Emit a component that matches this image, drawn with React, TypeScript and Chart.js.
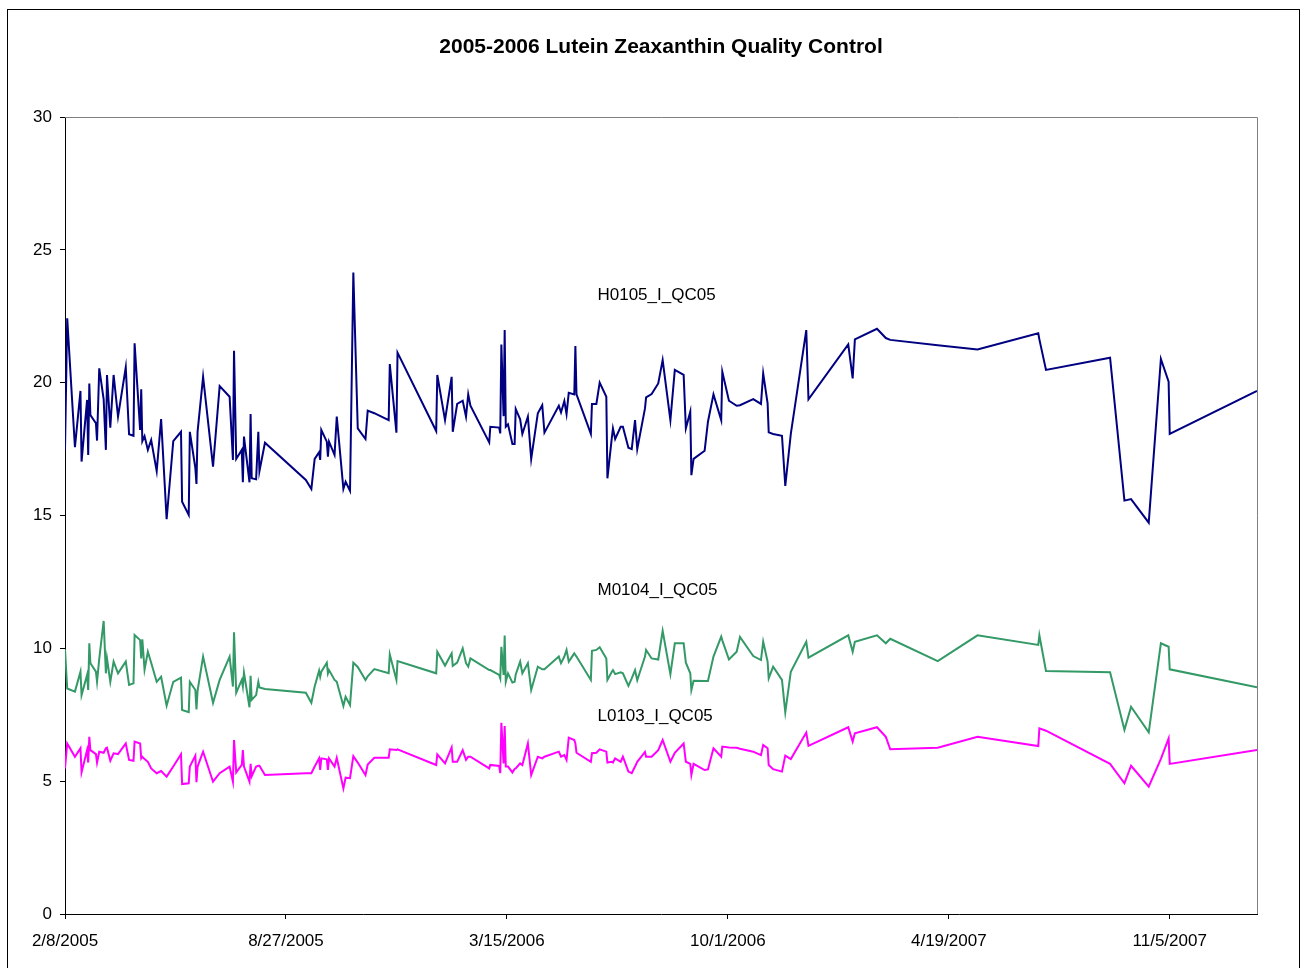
import React, { useEffect, useRef } from "react";
import { Chart, registerables } from "chart.js";

Chart.register(...registerables);

const BASE_DATE_UTC = Date.UTC(2005, 1, 8);
const chartTitle = "2005-2006 Lutein Zeaxanthin Quality Control";
const seriesNames = ["H0105_I_QC05", "M0104_I_QC05", "L0103_I_QC05"];

// days since 2/8/2005
const dayOffsets = [
  0, 2, 9, 14, 15, 20, 21, 22, 23, 28,
  29, 31, 35, 37, 38, 41, 44, 48, 55, 58,
  62, 63, 68, 69, 70, 72, 75, 78, 83, 87,
  92, 98, 105, 106, 112, 113, 118, 119, 120, 125,
  134, 140, 149, 152, 153, 155, 160, 161, 162, 167,
  168, 169, 173, 175, 176, 181, 218, 223, 226, 230,
  231, 232, 237, 238, 239, 244, 246, 252, 254, 258,
  261, 265, 272, 274, 280, 293, 294, 300, 301, 336,
  337, 344, 350, 351, 355, 360, 363, 365, 367, 384,
  385, 393, 394, 395, 397, 398, 399, 401, 405, 407,
  408, 412, 414, 419, 422, 428, 432, 434, 447, 449,
  452, 454, 456, 461, 462, 463, 476, 477, 481, 484,
  490, 491, 495, 496, 498, 503, 505, 510, 513, 516,
  518, 525, 526, 531, 537, 541, 548, 552, 560, 562,
  566, 567, 569, 579, 582, 587, 594, 595, 601, 608,
  611, 623, 630, 632, 636, 637, 641, 649, 652, 657,
  671, 673, 709, 713, 715, 735, 743, 747, 790, 826,
  881, 882, 888, 946, 959, 965, 981, 992, 999, 1000,
  1079,
];

const h0105 = [
  17.47, 22.42, 17.57, 19.69, 17.03, 19.35, 17.28, 19.97, 18.78, 18.47,
  17.82, 20.54, 19.37, 17.47, 20.29, 18.31, 20.29, 18.72, 20.58, 18.06,
  18.0, 21.48, 18.22, 19.75, 17.8, 17.99, 17.47, 17.84, 16.67, 18.63,
  14.86, 17.8, 18.15, 15.52, 15.02, 18.15, 16.78, 16.19, 18.15, 20.22,
  16.84, 19.87, 19.47, 17.09, 21.2, 17.13, 17.47, 16.25, 17.97, 16.25,
  18.82, 16.4, 16.36, 18.15, 16.67, 17.74, 16.34, 16.0, 17.13, 17.38,
  17.09, 18.22, 17.78, 17.21, 17.78, 17.28, 18.72, 16.0, 16.27, 15.93,
  24.15, 18.28, 17.88, 18.95, 18.85, 18.59, 20.7, 18.12, 21.13, 18.18,
  20.29, 18.59, 20.22, 18.15, 19.2, 19.32, 18.72, 19.56, 19.13, 17.75,
  18.34, 18.31, 18.09, 21.44, 18.74, 21.98, 18.34, 18.43, 17.69, 17.69,
  19.01, 18.62, 18.07, 18.72, 17.13, 18.85, 19.15, 18.12, 19.13, 18.88,
  19.31, 18.82, 19.62, 19.56, 21.38, 19.56, 18.07, 19.2, 19.2, 20.0,
  19.47, 16.4, 17.93, 18.28, 17.88, 18.34, 18.34, 17.55, 17.5, 18.59,
  17.5, 19.03, 19.45, 19.57, 19.97, 20.85, 18.59, 20.48, 20.29, 18.28,
  18.91, 16.52, 17.13, 17.44, 18.53, 19.56, 18.59, 20.41, 19.32, 19.13,
  19.15, 19.38, 19.2, 20.35, 19.22, 18.13, 18.07, 18.0, 16.11, 18.07,
  21.98, 19.37, 21.44, 20.16, 21.63, 22.03, 21.68, 21.61, 21.41, 21.25,
  21.86, 21.63, 20.48, 20.94, 15.56, 15.62, 14.73, 20.89, 20.04, 18.07,
  19.69,
];

const m0104 = [
  9.96, 8.49, 8.37, 9.12, 8.24, 9.0, 8.43, 10.19, 9.44, 9.12,
  8.74, 9.6, 11.03, 9.06, 9.62, 8.74, 9.5, 9.06, 9.5, 8.62,
  8.68, 10.5, 10.31, 9.62, 10.34, 9.2, 9.87, 9.46, 8.74, 8.93,
  7.84, 8.74, 8.9, 7.68, 7.6, 8.74, 8.43, 7.7, 8.4, 9.69,
  7.95, 8.81, 9.69, 8.56, 10.6, 8.33, 8.81, 8.56, 9.08, 7.78,
  8.97, 8.06, 8.24, 8.74, 8.53, 8.47, 8.33, 7.95, 8.56, 9.16,
  8.93, 9.12, 9.46, 9.06, 9.18, 8.81, 8.74, 7.83, 8.18, 7.87,
  9.46, 9.3, 8.81, 8.95, 9.22, 9.06, 9.77, 8.81, 9.52, 9.06,
  9.87, 9.35, 9.81, 9.34, 9.46, 10.0, 9.44, 9.31, 9.62, 9.18,
  9.18, 9.0, 8.87, 10.06, 9.0, 10.48, 8.74, 9.06, 8.71, 8.74,
  9.02, 9.5, 9.06, 9.44, 8.43, 9.31, 9.21, 9.21, 9.69, 9.44,
  9.69, 9.94, 9.5, 9.81, 9.75, 9.69, 8.81, 9.91, 9.94, 10.04,
  9.62, 8.81, 9.12, 9.18, 9.03, 9.1, 9.06, 8.59, 8.87, 9.18,
  8.8, 9.69, 9.94, 9.62, 9.58, 10.66, 9.03, 10.19, 10.19, 9.46,
  9.06, 8.43, 8.78, 8.77, 8.77, 9.69, 10.44, 10.3, 9.58, 9.87,
  10.43, 9.71, 9.56, 10.25, 9.5, 8.87, 9.31, 8.81, 7.59, 9.12,
  10.25, 9.65, 10.49, 9.87, 10.25, 10.49, 10.19, 10.36, 9.52, 10.49,
  10.13, 10.49, 9.15, 9.1, 6.93, 7.8, 6.84, 10.19, 10.06, 9.21,
  8.53,
];

const l0103 = [
  5.48, 6.42, 5.92, 6.24, 5.33, 6.17, 5.7, 6.67, 6.17, 6.02,
  5.7, 6.11, 6.07, 6.24, 6.26, 5.77, 6.05, 6.02, 6.42, 5.8,
  5.77, 6.49, 6.42, 5.86, 5.92, 5.83, 5.73, 5.48, 5.3, 5.38,
  5.17, 5.55, 6.01, 4.89, 4.92, 5.55, 5.96, 4.96, 5.55, 6.11,
  4.98, 5.3, 5.55, 4.98, 6.55, 5.33, 5.61, 6.17, 5.55, 4.98,
  5.65, 5.19, 5.55, 5.58, 5.58, 5.23, 5.3, 5.3, 5.55, 5.86,
  5.42, 5.86, 5.82, 5.42, 5.86, 5.55, 5.88, 4.73, 5.13, 5.11,
  5.94, 5.7, 5.23, 5.63, 5.88, 5.88, 6.2, 6.17, 6.2, 5.61,
  6.01, 5.67, 6.27, 5.73, 5.73, 6.17, 5.8, 5.92, 5.92, 5.48,
  5.61, 5.57, 5.3, 7.2, 5.67, 7.08, 5.55, 5.55, 5.33, 5.46,
  5.48, 5.67, 5.61, 6.42, 5.23, 5.92, 5.86, 5.92, 6.11, 5.92,
  5.98, 5.8, 6.64, 6.55, 6.42, 6.07, 5.73, 6.05, 6.07, 6.2,
  6.11, 5.7, 5.73, 5.7, 5.86, 5.73, 5.92, 5.36, 5.3, 5.55,
  5.73, 6.1, 5.92, 5.92, 6.17, 6.55, 5.73, 6.07, 6.42, 5.73,
  5.65, 5.23, 5.65, 5.42, 5.44, 6.24, 5.92, 6.3, 6.27, 6.26,
  6.22, 6.11, 5.98, 6.36, 6.24, 5.61, 5.45, 5.36, 5.96, 5.83,
  6.83, 6.33, 7.03, 6.49, 6.8, 7.03, 6.67, 6.2, 6.26, 6.67,
  6.32, 6.99, 6.9, 5.65, 4.92, 5.58, 4.79, 5.84, 6.61, 5.65,
  6.17,
];

const xTickDays = [0, 200, 400, 600, 800, 1000];
const xMaxDay = 1079;
const yTickValues = [0, 5, 10, 15, 20, 25, 30];

// series name labels placed in data coordinates (day, value)
const seriesLabelDay = 482;
const seriesLabelValues = [23.3, 12.2, 7.45];

const seriesColors = ["#000080", "#339966", "#FF00FF"];
const FONT = "'Liberation Sans', Arial, sans-serif";

function formatDay(day: number): string {
  const d = new Date(BASE_DATE_UTC + day * 86400000);
  return `${d.getUTCMonth() + 1}/${d.getUTCDate()}/${d.getUTCFullYear()}`;
}

const decorPlugin = {
  id: "decor",
  afterDraw(chart: any) {
    const { ctx, chartArea, scales } = chart;
    ctx.save();
    // plot area border (top and right, gray)
    ctx.strokeStyle = "#808080";
    ctx.lineWidth = 1;
    ctx.beginPath();
    ctx.moveTo(chartArea.left, chartArea.top + 0.5);
    ctx.lineTo(chartArea.right + 0.5, chartArea.top + 0.5);
    ctx.lineTo(chartArea.right + 0.5, chartArea.bottom);
    ctx.stroke();

    // title
    ctx.fillStyle = "#000";
    ctx.font = `bold 21px ${FONT}`;
    ctx.textAlign = "center";
    ctx.textBaseline = "middle";
    ctx.fillText(chartTitle, (chartArea.left + chartArea.right) / 2, 47);

    // series labels
    ctx.font = `17px ${FONT}`;
    ctx.textAlign = "left";
    ctx.textBaseline = "middle";
    const x = scales.x.getPixelForValue(seriesLabelDay);
    seriesNames.forEach((name, i) => {
      ctx.fillText(name, x, scales.y.getPixelForValue(seriesLabelValues[i]));
    });
    ctx.restore();
  },
};

export default function App() {
  const canvasRef = useRef<HTMLCanvasElement | null>(null);

  useEffect(() => {
    if (!canvasRef.current) return;
    const series = [h0105, m0104, l0103];
    const chart = new Chart(canvasRef.current, {
      type: "line",
      data: {
        datasets: series.map((vals, i) => ({
          label: seriesNames[i],
          data: dayOffsets.map((d, j) => ({ x: d, y: vals[j] })),
          borderColor: seriesColors[i],
          backgroundColor: seriesColors[i],
          borderWidth: 2,
          pointRadius: 0,
          tension: 0,
          fill: false,
        })),
      },
      options: {
        animation: false,
        responsive: false,
        devicePixelRatio: 1,
        layout: { padding: { left: 0, right: 45, top: 117, bottom: 0 } },
        plugins: {
          legend: { display: false },
          title: { display: false },
          tooltip: { enabled: false },
        },
        scales: {
          x: {
            type: "linear",
            min: 0,
            max: xMaxDay,
            afterBuildTicks: (s: any) => {
              s.ticks = xTickDays.map((v) => ({ value: v }));
            },
            afterFit: (s: any) => {
              s.height = 54;
            },
            ticks: {
              callback: (v: any) => formatDay(Number(v)),
              color: "#000",
              font: { family: FONT, size: 17 },
              padding: 12,
              maxRotation: 0,
              autoSkip: false,
            },
            grid: {
              drawOnChartArea: false,
              drawTicks: true,
              tickLength: 5,
              color: "#000",
            },
            border: { display: true, color: "#000", width: 1 },
          },
          y: {
            type: "linear",
            min: 0,
            max: 30,
            afterBuildTicks: (s: any) => {
              s.ticks = yTickValues.map((v) => ({ value: v }));
            },
            afterFit: (s: any) => {
              s.width = 65;
            },
            ticks: {
              color: "#000",
              font: { family: FONT, size: 17 },
              padding: 8,
            },
            grid: {
              drawOnChartArea: false,
              drawTicks: true,
              tickLength: 5,
              color: "#000",
            },
            border: { display: true, color: "#000", width: 1 },
          },
        },
      },
      plugins: [decorPlugin],
    });
    return () => chart.destroy();
  }, []);

  return (
    <>
      <div
        style={{
          position: "absolute",
          left: 7,
          top: 9,
          width: 1293,
          height: 1000,
          border: "1px solid #000",
          boxSizing: "border-box",
        }}
      />
      <canvas
        ref={canvasRef}
        width={1302}
        height={968}
        style={{ position: "absolute", left: 0, top: 0, width: 1302, height: 968 }}
      />
    </>
  );
}
